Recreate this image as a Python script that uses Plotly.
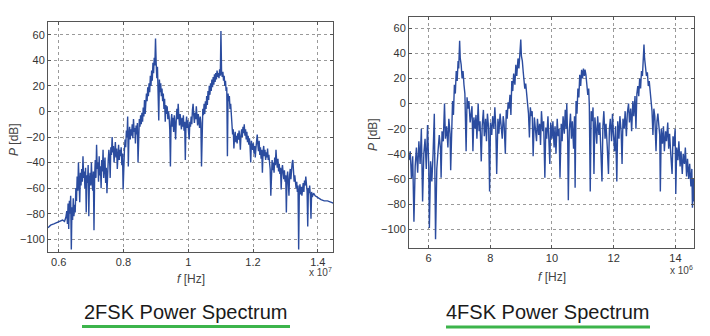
import plotly.graph_objects as go

W, H = 710, 336

# ---------------- 2FSK spectrum (frequency in units of 1e7 Hz, power in dB)
f_2fsk = [
    0.567, 0.575, 0.585, 0.595, 0.605, 0.612, 0.618, 0.622,
    0.625, 0.627, 0.629, 0.631, 0.633, 0.635, 0.637, 0.639, 0.641, 0.643, 0.645, 0.647, 0.649,
    0.651, 0.653, 0.655, 0.657, 0.659, 0.661, 0.663, 0.665, 0.667, 0.669,
    0.671, 0.673, 0.675, 0.677, 0.679, 0.681, 0.683, 0.685, 0.687, 0.689, 0.691, 0.693, 0.695, 0.697, 0.699, 0.701, 0.703, 0.705, 0.707, 0.709,
    0.711, 0.713, 0.715, 0.717, 0.719, 0.721, 0.723, 0.725, 0.727, 0.729, 0.731, 0.733, 0.735, 0.737, 0.739, 0.741, 0.743, 0.745, 0.747, 0.749, 0.751,
    0.753, 0.755, 0.757, 0.759, 0.761, 0.763, 0.765, 0.767, 0.769, 0.771, 0.773, 0.775, 0.777, 0.779, 0.781, 0.783, 0.785, 0.787, 0.789, 0.791, 0.793, 0.795, 0.797, 0.799, 0.801, 0.803,
    0.805, 0.807, 0.809, 0.811, 0.813, 0.815, 0.817, 0.819, 0.821, 0.823, 0.825, 0.827, 0.829, 0.831, 0.833, 0.835, 0.837, 0.839, 0.841, 0.843, 0.845, 0.847, 0.849, 0.851, 0.853, 0.855,
    0.857, 0.859, 0.861, 0.863, 0.865, 0.867, 0.869, 0.871, 0.873, 0.875, 0.877, 0.879, 0.881, 0.883, 0.885, 0.887, 0.889, 0.891, 0.893, 0.895, 0.897, 0.899,
    0.901, 0.903, 0.905, 0.907, 0.909, 0.911, 0.913, 0.915, 0.917, 0.919, 0.921, 0.923, 0.925, 0.927, 0.929, 0.931, 0.933, 0.935, 0.937, 0.939,
    0.941, 0.943, 0.945, 0.947, 0.949, 0.951, 0.953, 0.955, 0.957, 0.959, 0.961, 0.963, 0.965, 0.967, 0.969, 0.971, 0.973, 0.975, 0.977, 0.979, 0.981, 0.983, 0.985, 0.987, 0.989, 0.991, 0.993, 0.995, 0.997, 0.999,
    1.001, 1.003, 1.005, 1.007, 1.009, 1.011, 1.013, 1.015, 1.017, 1.019, 1.021, 1.023, 1.025, 1.027, 1.029, 1.031, 1.033, 1.035, 1.037, 1.039, 1.041, 1.043, 1.045, 1.047,
    1.049, 1.051, 1.053, 1.055, 1.057, 1.059, 1.061, 1.063, 1.065, 1.067, 1.069, 1.071, 1.073, 1.075, 1.077, 1.079, 1.081, 1.083, 1.085, 1.087, 1.089, 1.091, 1.093, 1.095, 1.097, 1.099, 1.101, 1.103,
    1.105, 1.107, 1.109, 1.111, 1.113, 1.115, 1.117, 1.119, 1.121, 1.123, 1.125, 1.127, 1.129, 1.131, 1.133, 1.135,
    1.137, 1.139, 1.141, 1.143, 1.145, 1.147, 1.149, 1.151, 1.153, 1.155, 1.157, 1.159, 1.161, 1.163, 1.165, 1.167, 1.169, 1.171, 1.173, 1.175, 1.177, 1.179, 1.181, 1.183, 1.185, 1.187, 1.189, 1.191, 1.193, 1.195, 1.197,
    1.199, 1.201, 1.203, 1.205, 1.207, 1.209, 1.211, 1.213, 1.215, 1.217, 1.219, 1.221, 1.223, 1.225, 1.227, 1.229, 1.231, 1.233, 1.235, 1.237, 1.239, 1.241, 1.243, 1.245, 1.247, 1.249,
    1.251, 1.253, 1.255, 1.257, 1.259, 1.261, 1.263, 1.265, 1.267, 1.269, 1.271, 1.273, 1.275, 1.277, 1.279, 1.281, 1.283, 1.285, 1.287, 1.289, 1.291,
    1.293, 1.295, 1.297, 1.299, 1.301, 1.303, 1.305, 1.307, 1.309, 1.311, 1.313, 1.315, 1.317, 1.319, 1.321, 1.323, 1.325, 1.327, 1.329, 1.331,
    1.333, 1.335, 1.337, 1.339, 1.341, 1.343, 1.345, 1.347, 1.349, 1.351, 1.353, 1.355, 1.357, 1.359, 1.361, 1.363, 1.365, 1.367, 1.369, 1.371, 1.373, 1.375, 1.377, 1.379, 1.381, 1.383,
    1.387, 1.392, 1.397, 1.402, 1.41, 1.42, 1.43, 1.44, 1.45,
]
p_2fsk = [
    -91, -89, -88, -87, -86, -85, -86, -83,
    -78, -88, -72, -92, -70, -80, -66, -108, -75, -85, -68, -82, -73,
    -79, -60, -70, -51, -62, -40, -55, -71, -48, -58,
    -45, -55, -35, -52, -47, -60, -44, -79, -50, -56, -42, -82, -53, -48, -58, -40, -55, -62, -47, -93,
    -50, -38, -52, -26, -45, -40, -55, -35, -50, -43, -60, -38, -47, -30, -52, -42, -36, -56, -44, -64, -45,
    -38, -30, -36, -52, -28, -34, -20, -32, -27, -40, -30, -24, -36, -29, -45, -33, -26, -38, -30, -35, -28, -42, -33, -61, -36, -30,
    -22, -28, -15, -20, -4, -43, -18, -12, -22, -14, -19, -10, -21, -6, -16, -13, -25, -11, -18, -9, -40, -14, -6, -12, -3, -10,
    -1, -8, 3, -4, 9, -2, 5, 14, 8, 19, 12, 22, 15, 28, 20, 32, 24, 38, 30, 42, 36, 57,
    38, 26, 35, 20, -7, 25, 15, 22, 12, 18, 8, 14, 2, 10, -8, 5, -2, 4, -6, 0,
    -4, -14, -43, -8, -2, -12, -5, -16, -3, -10, -22, -7, 2, -6, 6, -4, -11, -2, -9, -14, -5, -12, -3, -15, -8, -38, -10, -4, -13, -7,
    -16, -22, -8, -12, -4, -10, 1, 6, -3, -9, -1, -6, 4, -5, -11, -2, -8, -13, -4, -9, -43, -7, 2, -3,
    6, -2, 8, 2, 12, 5, 16, 9, 20, 13, 22, 16, 25, 19, 27, 21, 29, 23, 30, 25, 32, 27, 30, 26, 33, 28, 63, 30,
    27, 31, 24, 28, 20, 24, 16, 19, -35, 14, 8, 12, 2, 6, -4, -10,
    -18, -14, -29, -20, -16, -24, -19, -25, -17, -22, -15, -21, -30, -18, -14, -20, -12, -17, -10, -19, -14, -22, -16, -24, -19, -26, -21, -28, -40, -23, -27,
    -30, -25, -33, -27, -36, -29, -24, -18, -26, -31, -23, -34, -28, -37, -30, -48, -32, -27, -35, -30, -38, -32, -36, -29, -38, -34,
    -40, -45, -66, -42, -38, -46, -40, -48, -36, -42, -30, -39, -44, -37, -47, -41, -49, -44, -61, -46, -42,
    -48, -53, -46, -55, -50, -79, -52, -47, -56, -66, -50, -45, -53, -44, -40, -38, -48, -55, -50, -57,
    -60, -55, -63, -58, -108, -62, -57, -65, -59, -66, -60, -56, -63, -54, -58, -51, -57, -62, -90, -60, -64, -58, -66, -84, -63, -67,
    -64, -66, -67, -68, -69, -70, -70, -71, -72,
]

# ---------------- 4FSK spectrum (frequency in units of 1e6 Hz, power in dB)
f_4fsk = [
    5.37, 5.41, 5.45, 5.49, 5.53, 5.57, 5.61, 5.65, 5.69, 5.73, 5.77, 5.81, 5.85, 5.89, 5.93, 5.97,
    6.01, 6.03, 6.07, 6.11, 6.15, 6.19, 6.23, 6.27, 6.31,
    6.35, 6.39, 6.41, 6.44, 6.48, 6.52, 6.55, 6.59, 6.63, 6.66, 6.70, 6.72, 6.75,
    6.78, 6.81, 6.84, 6.87, 6.90, 6.93, 6.96, 6.98, 7.01, 7.03,
    7.06, 7.09, 7.12, 7.15, 7.18, 7.22, 7.25, 7.28, 7.31, 7.35, 7.38, 7.41, 7.44, 7.47,
    7.51, 7.54, 7.57, 7.61, 7.64, 7.67, 7.71, 7.74, 7.78, 7.81, 7.85, 7.88, 7.91, 7.95, 7.98,
    8.01, 8.05, 8.08, 8.12, 8.15, 8.18, 8.21, 8.25, 8.28, 8.32, 8.35, 8.39, 8.42, 8.45, 8.49, 8.52, 8.55, 8.58,
    8.61, 8.64, 8.67, 8.70, 8.73, 8.76, 8.80, 8.83, 8.86, 8.90, 8.93, 8.96, 8.99, 9.01,
    9.04, 9.07, 9.09, 9.12, 9.15, 9.18, 9.21, 9.24, 9.27, 9.30, 9.33, 9.36, 9.39, 9.43,
    9.47, 9.50, 9.53, 9.57, 9.60, 9.63, 9.66, 9.70, 9.73, 9.77, 9.80, 9.83, 9.87, 9.90, 9.93, 9.96,
    10.00, 10.03, 10.07, 10.10, 10.13, 10.17, 10.20, 10.23, 10.26, 10.30, 10.33, 10.36, 10.40, 10.43, 10.46, 10.48, 10.51, 10.53, 10.56, 10.60, 10.63, 10.66, 10.70, 10.73, 10.75,
    10.78, 10.81, 10.84, 10.87, 10.90, 10.93, 10.96, 10.99, 11.02, 11.05, 11.07,
    11.10, 11.13, 11.16, 11.19, 11.21, 11.24, 11.27, 11.30, 11.33, 11.36, 11.39,
    11.42, 11.45, 11.48, 11.52, 11.55, 11.58, 11.62, 11.65, 11.68, 11.72, 11.75, 11.79, 11.83, 11.86, 11.89, 11.93, 11.96, 11.99, 12.03,
    12.06, 12.10, 12.13, 12.17, 12.20, 12.24, 12.27, 12.30, 12.34, 12.37, 12.41, 12.44, 12.48, 12.51, 12.55, 12.58, 12.62, 12.65, 12.69,
    12.72, 12.75, 12.78, 12.81, 12.84, 12.87, 12.90, 12.93, 12.96, 12.98, 13.00,
    13.03, 13.06, 13.09, 13.12, 13.15, 13.18, 13.21, 13.24, 13.27, 13.30, 13.33, 13.37, 13.40, 13.43, 13.46,
    13.49, 13.51, 13.54, 13.58, 13.61, 13.64, 13.68, 13.71, 13.75, 13.78, 13.81, 13.85, 13.89, 13.92, 13.95, 13.99,
    14.01, 14.04, 14.08, 14.11, 14.15, 14.18, 14.22, 14.25, 14.29, 14.32, 14.36, 14.39, 14.43, 14.46, 14.50, 14.53, 14.55, 14.58, 14.60,
]
p_4fsk = [
    -45, -38, -60, -42, -94, -50, -35, -55, -30, -48, -20, -78, -40, -28, -52, -17,
    -50, -99, -46, -62, -40, -8, -108, -52, -38,
    -25, -36, -59, -22, -30, 0, -28, -18, -35, -12, -24, -53, -8,
    2, -9, 15, 8, 26, 18, 34, 28, 50, 36,
    31, 20, 26, 15, 8, -38, 5, -4, 2, -15, -9, -2, -38, -11,
    -20, -9, -28, 0, -22, -14, -46, -18, -5, -26, -12, -30, -8, -20, -70,
    -15, -25, -10, -20, -3, -18, -56, -12, -24, -8, -19, -28, -10, -16, -40, -5, -12, 1,
    -4, 7, -9, 18, 10, 24, 15, 31, 22, 36, 28, 40, 51, 38,
    34, 25, 21, 12, 16, 5, 0, -8, -27, -3, -10, -6, -42, -11,
    -20, -30, -12, -25, -16, -33, -6, -22, -14, -59, -19, -28, -10, -24, -48, -15,
    -28, -14, -35, -18, -40, -12, -26, -20, -59, -16, -30, -10, -24, -5, -20, 0, -30, -77, -22, -8, -28, -14, -36, -10, -67,
    2, -8, 12, 5, 23, 14, 27, 20, 28, 22, 27,
    23, 15, 7, 12, -2, -70, -6, -14, -3, -56, -11,
    -20, -32, -10, -25, -15, -36, -62, -18, -6, -28, -16, -34, -56, -20, -12, -30, -8, -24, -38,
    -18, -62, -14, -28, -10, -22, -48, -12, -20, -6, -26, -8, 0, -15, -4, -22, 2, -10, 6,
    -20, 8, 14, 6, 20, 12, 26, 22, 34, 47, 36,
    29, 22, 25, 14, 18, 10, 2, -6, -25, -4, -10, -38, -14, -8, -17,
    -25, -70, -20, -32, -18, -38, -22, -30, -15, -36, -24, -41, -56, -26, -34, -20,
    -72, -35, -45, -30, -50, -38, -56, -40, -48, -35, -58, -44, -60, -48, -66, -52, -83, -60, -78,
]

y_ticks = [-100, -80, -60, -40, -20, 0, 20, 40, 60]
x_ticks_2fsk = [0.6, 0.8, 1.0, 1.2, 1.4]
x_tick_text_2fsk = ["0.6", "0.8", "1", "1.2", "1.4"]
x_ticks_4fsk = [6, 8, 10, 12, 14]
titles = ["2FSK Power Spectrum", "4FSK Power Spectrum"]

LINE = "#2b4c9f"
FONT = "Liberation Sans, Arial, sans-serif"
TICKC = "#333333"


def px(x):
    return x / W


def py(y):
    return 1 - y / H


fig = go.Figure()
fig.add_trace(go.Scatter(x=f_2fsk, y=p_2fsk, mode="lines",
                         line=dict(color=LINE, width=1.4), xaxis="x", yaxis="y",
                         showlegend=False, hoverinfo="skip"))
fig.add_trace(go.Scatter(x=f_4fsk, y=p_4fsk, mode="lines",
                         line=dict(color=LINE, width=1.4), xaxis="x2", yaxis="y2",
                         showlegend=False, hoverinfo="skip"))

axis_common = dict(
    showline=True, linecolor="#555555", linewidth=1, mirror="ticks",
    ticks="inside", ticklen=3, tickcolor="#555555",
    showgrid=True, gridcolor="#9a9a9a", griddash="dot", gridwidth=1,
    zeroline=False, tickfont=dict(family=FONT, size=11, color=TICKC),
)

fig.update_layout(
    width=W, height=H, margin=dict(l=0, r=0, t=0, b=0),
    paper_bgcolor="white", plot_bgcolor="white", showlegend=False,
    xaxis=dict(domain=[px(48), px(333)], range=[0.567, 1.447], anchor="y",
               tickvals=x_ticks_2fsk, ticktext=x_tick_text_2fsk, **axis_common),
    yaxis=dict(domain=[py(252), py(22)], range=[-110, 70], anchor="x",
               tickvals=y_ticks, **axis_common),
    xaxis2=dict(domain=[px(409), px(694)], range=[5.37, 14.6], anchor="y2",
                tickvals=x_ticks_4fsk, **axis_common),
    yaxis2=dict(domain=[py(248), py(17)], range=[-115, 69], anchor="x2",
                tickvals=y_ticks, **axis_common),
)

lab_font = dict(family=FONT, size=12, color="#444444")
ann = [
    dict(x=px(14), y=py(140), text="<i>P</i> [dB]", textangle=-90, font=lab_font),
    dict(x=px(373), y=py(135), text="<i>P</i> [dB]", textangle=-90, font=lab_font),
    dict(x=px(191), y=py(279), text="<i>f</i> [Hz]", font=lab_font),
    dict(x=px(552), y=py(277), text="<i>f</i> [Hz]", font=lab_font),
    dict(x=px(320), y=py(272), text="x 10<sup>7</sup>", font=dict(family=FONT, size=10, color="#444444")),
    dict(x=px(681), y=py(270), text="x 10<sup>6</sup>", font=dict(family=FONT, size=10, color="#444444")),
    dict(x=px(185), y=py(312), text=titles[0], font=dict(family=FONT, size=20, color="#1a1a1a")),
    dict(x=px(547), y=py(312), text=titles[1], font=dict(family=FONT, size=20, color="#1a1a1a")),
]
for a in ann:
    a.update(xref="paper", yref="paper", showarrow=False, xanchor="center", yanchor="middle")
fig.update_layout(annotations=ann)

fig.update_layout(shapes=[
    dict(type="line", xref="paper", yref="paper", x0=px(82), x1=px(290), y0=py(326.5), y1=py(326.5),
         line=dict(color="#3cb44b", width=3)),
    dict(type="line", xref="paper", yref="paper", x0=px(446), x1=px(650), y0=py(327), y1=py(327),
         line=dict(color="#3cb44b", width=3)),
])

fig.write_html("out.html")
